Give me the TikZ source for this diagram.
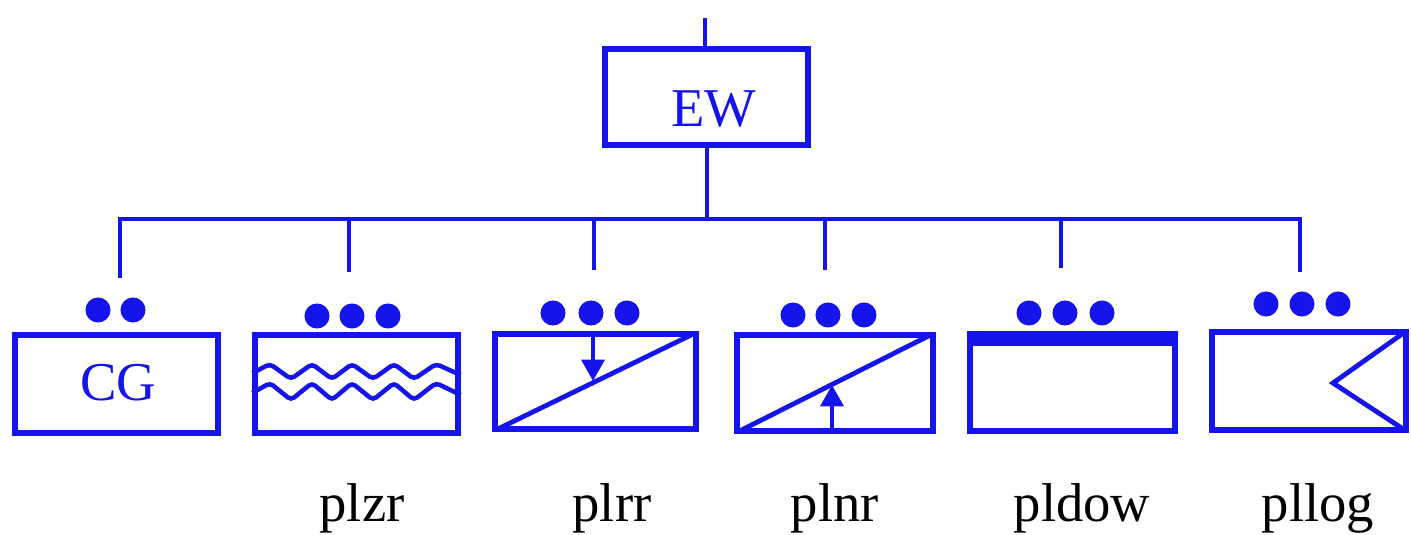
\documentclass[tikz,border=0pt]{standalone}
\usepackage{fontspec}
\setmainfont{Liberation Serif}
\usetikzlibrary{arrows.meta,calc}
\definecolor{inkblue}{RGB}{20,20,235}
\begin{document}
\begin{tikzpicture}[x=0.75pt,y=-0.75pt,
  frame/.style={draw=inkblue, line width=4pt, rectangle, inner sep=0pt},
  wire/.style={draw=inkblue, line width=3.4pt},
  dot/.style={fill=inkblue},
  bigtxt/.style={font=\fontsize{41}{48}\selectfont, inner sep=0pt},
  lbl/.style={bigtxt, anchor=base, text=black},
  boxtxt/.style={bigtxt, anchor=base, text=inkblue},
  tip/.style={-{Triangle[width=17pt,length=16pt]}}]
\useasboundingbox (0,0) rectangle (1411,535);

% top node
\node[frame, minimum width={0.75pt*203}, minimum height={0.75pt*96}] (ew) at (706.5,97) {};
\node[boxtxt] (ewt) at (714,127) {EW};
\coordinate (top) at (705,18);
\draw[wire] (top) -- (top |- ew.north);

% bus
\coordinate (bus) at (707,219);
\coordinate (busL) at (120,219);
\coordinate (busR) at (1300,219);
\draw[wire] (ew.south -| bus) -- (bus);
\draw[wire, line cap=rect] (busL) -- (busR);
\coordinate (d1) at (120,278);
\coordinate (d2) at (349,272);
\coordinate (d3) at (594,270);
\coordinate (d4) at (825,270);
\coordinate (d5) at (1061,268);
\coordinate (d6) at (1300,272);
\foreach \d in {d1,d2,d3,d4,d5,d6}{
  \draw[wire] (\d |- busL) -- (\d);
}

% boxes
\node[frame, minimum width={0.75pt*203}, minimum height={0.75pt*98}] (b1) at (116.5,384) {};
\node[frame, minimum width={0.75pt*203}, minimum height={0.75pt*98}] (b2) at (356.5,384) {};
\node[frame, minimum width={0.75pt*201}, minimum height={0.75pt*95}] (b3) at (595.5,381.5) {};
\node[frame, minimum width={0.75pt*196}, minimum height={0.75pt*96}] (b4) at (835,383) {};
\node[frame, minimum width={0.75pt*205}, minimum height={0.75pt*97}] (b5) at (1072.5,382.5) {};
\node[frame, minimum width={0.75pt*194}, minimum height={0.75pt*98}] (b6) at (1309,381) {};

\node[boxtxt] (cgt) at (118,400) {CG};

% dots
\foreach \x/\y in {98/310,133/310,
                   317/316,352/316,388/316,
                   553/313,591/313,627/313,
                   793/315,828/315,864/315,
                   1029/313,1065/313,1102/313,
                   1266/304,1302/304,1338/304}{
  \fill[dot] (\x,\y) circle[radius=9.4pt];
}

% plzr waves
\draw[wire, rounded corners=3pt] (b2.west |- 0,373) -- (270,364) -- (291,379) -- (312,364) -- (332,379)
  -- (352,364) -- (373,379) -- (394,364) -- (414,379) -- (436,364) -- (b2.east |- 0,375);
\draw[wire, rounded corners=3pt] (b2.west |- 0,393) -- (270,383) -- (291,400) -- (312,383) -- (332,400)
  -- (352,383) -- (373,400) -- (394,383) -- (414,400) -- (436,383) -- (b2.east |- 0,395);

% plrr
\begin{scope}
\clip (b3.south west) rectangle (b3.north east);
\draw[wire, line width=3.6pt] (b3.south west) -- (b3.north east);
\end{scope}
\coordinate (a3) at (593,381);
\draw[wire, tip] (a3 |- b3.north) -- (a3);

% plnr
\begin{scope}
\clip (b4.south west) rectangle (b4.north east);
\draw[wire, line width=3.6pt] (b4.south west) -- (b4.north east);
\end{scope}
\coordinate (a4) at (832,385);
\draw[wire, tip] (a4 |- b4.south) -- (a4);

% pldow
\fill[inkblue] (b5.north west) rectangle ($(b5.north east)+(0,15)$);

% pllog
\coordinate (n6) at (1333,383);
\begin{scope}
\clip (b6.south west) rectangle (b6.north east);
\draw[wire, line width=3.6pt, line join=miter] (b6.north east) -- (n6) -- (b6.south east);
\end{scope}

% labels
\node[lbl] (l2) at (362,521) {plzr};
\node[lbl] (l3) at (612,521) {plrr};
\node[lbl] (l4) at (835,521) {plnr};
\node[lbl] (l5) at (1082,521) {pldow};
\node[lbl] (l6) at (1318,521) {pllog};
\end{tikzpicture}
\end{document}
